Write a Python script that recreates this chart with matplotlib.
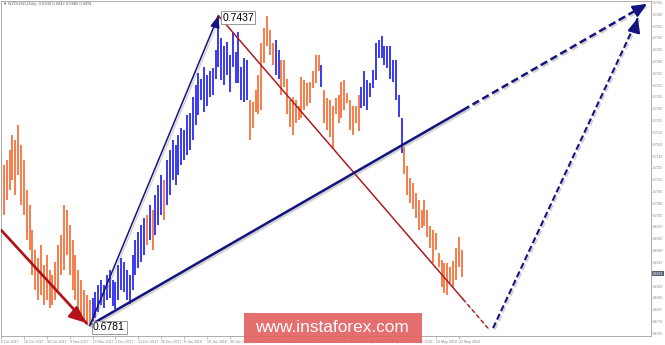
import numpy as np
import matplotlib
matplotlib.use('Agg')
import matplotlib.pyplot as plt
import matplotlib.patheffects as pe
from matplotlib.patches import Rectangle

plt.rcParams['font.family'] = ['Liberation Sans', 'DejaVu Sans']

# colours
BAR_UP = '#3a3af2'
BAR_DN = '#f77d4d'
NAVY = '#14147f'
RED = '#b3121b'
AXIS_GRAY = '#8a8a8a'

# NZDUSD daily bars (bar 0 = 6 Oct 2017)
highs = [0.7153, 0.7121, 0.7132, 0.7153, 0.7185, 0.7174, 0.7206, 0.7163, 0.7132, 0.7068,
         0.7036, 0.6984, 0.6941, 0.6924, 0.6952, 0.6910, 0.6931, 0.6899, 0.6888, 0.6916,
         0.6952, 0.6973, 0.7036, 0.7026, 0.6994, 0.6962, 0.6931, 0.6899, 0.6878, 0.6857,
         0.6846, 0.6835, 0.6840, 0.6852, 0.6867, 0.6878, 0.6867, 0.6888, 0.6899, 0.6878,
         0.6874, 0.6910, 0.6924, 0.6916, 0.6899, 0.6888, 0.6931, 0.6962, 0.6979, 0.6994,
         0.7009, 0.7015, 0.7036, 0.7026, 0.7058, 0.7079, 0.7100, 0.7089, 0.7132, 0.7153,
         0.7174, 0.7163, 0.7185, 0.7199, 0.7195, 0.7227, 0.7231, 0.7265, 0.7290, 0.7316,
         0.7304, 0.7329, 0.7312, 0.7319, 0.7326, 0.7364, 0.7437, 0.7389, 0.7372, 0.7382,
         0.7354, 0.7403, 0.7361, 0.7403, 0.7329, 0.7347, 0.7343, 0.7259, 0.7255, 0.7280,
         0.7312, 0.7379, 0.7410, 0.7436, 0.7407, 0.7379, 0.7386, 0.7364, 0.7343, 0.7343,
         0.7304, 0.7259, 0.7266, 0.7259, 0.7245, 0.7308, 0.7301, 0.7294, 0.7297, 0.7319,
         0.7354, 0.7354, 0.7333, 0.7280, 0.7262, 0.7259, 0.7245, 0.7262, 0.7269, 0.7297,
         0.7301, 0.7273, 0.7259, 0.7245, 0.7245, 0.7269, 0.7287, 0.7319, 0.7301, 0.7294,
         0.7322, 0.7379, 0.7386, 0.7394, 0.7372, 0.7372, 0.7372, 0.7343, 0.7343, 0.7269,
         0.7220, 0.7160, 0.7118, 0.7093, 0.7082, 0.7061, 0.7047, 0.7026, 0.7047, 0.7026,
         0.6991, 0.6984, 0.6977, 0.6934, 0.6920, 0.6913, 0.6913, 0.6906, 0.6917, 0.6945,
         0.6969, 0.6942]
lows = [0.7026, 0.7015, 0.7047, 0.7068, 0.7089, 0.7058, 0.7100, 0.7036, 0.7015, 0.6962,
        0.6941, 0.6888, 0.6857, 0.6835, 0.6846, 0.6825, 0.6835, 0.6819, 0.6825, 0.6835,
        0.6857, 0.6888, 0.6899, 0.6931, 0.6888, 0.6857, 0.6835, 0.6814, 0.6804, 0.6789,
        0.6783, 0.6781, 0.6789, 0.6797, 0.6810, 0.6825, 0.6819, 0.6835, 0.6840, 0.6823,
        0.6816, 0.6835, 0.6857, 0.6852, 0.6835, 0.6827, 0.6857, 0.6888, 0.6903, 0.6916,
        0.6931, 0.6952, 0.6962, 0.6941, 0.6973, 0.6994, 0.7015, 0.7005, 0.7036, 0.7058,
        0.7089, 0.7079, 0.7100, 0.7121, 0.7132, 0.7142, 0.7153, 0.7174, 0.7206, 0.7227,
        0.7259, 0.7234, 0.7245, 0.7266, 0.7269, 0.7304, 0.7329, 0.7301, 0.7290, 0.7312,
        0.7276, 0.7329, 0.7294, 0.7294, 0.7259, 0.7255, 0.7259, 0.7174, 0.7199, 0.7234,
        0.7230, 0.7237, 0.7336, 0.7372, 0.7354, 0.7333, 0.7312, 0.7304, 0.7269, 0.7287,
        0.7230, 0.7202, 0.7185, 0.7209, 0.7216, 0.7220, 0.7237, 0.7245, 0.7252, 0.7283,
        0.7294, 0.7319, 0.7287, 0.7209, 0.7195, 0.7181, 0.7156, 0.7230, 0.7209, 0.7220,
        0.7237, 0.7252, 0.7195, 0.7185, 0.7209, 0.7192, 0.7241, 0.7245, 0.7237, 0.7266,
        0.7283, 0.7301, 0.7347, 0.7347, 0.7333, 0.7326, 0.7304, 0.7297, 0.7259, 0.7223,
        0.7146, 0.7103, 0.7058, 0.7040, 0.7029, 0.7008, 0.6984, 0.6987, 0.6991, 0.6969,
        0.6945, 0.6913, 0.6941, 0.6906, 0.6864, 0.6850, 0.6846, 0.6871, 0.6864, 0.6878,
        0.6906, 0.6885]
# 1 = blue bar, 0 = orange bar
ups = [0] * 32 + [1] * 19 + [0, 1, 0, 1, 1, 1, 0] + [1] * 29 + [0] * 9 + [1, 1] + \
      [0] * 14 + [1] + [0] * 13 + [1] * 15 + [0] * 21

date_labels = ['6 Oct 2017', '18 Oct 2017', '30 Oct 2017', '9 Nov 2017', '21 Nov 2017',
               '1 Dec 2017', '13 Dec 2017', '26 Dec 2017', '8 Jan 2018', '18 Jan 2018',
               '30 Jan 2018', '9 Feb 2018', '21 Feb 2018', '5 Mar 2018', '15 Mar 2018',
               '27 Mar 2018', '6 Apr 2018', '18 Apr 2018', '30 Apr 2018', '10 May 2018',
               '22 May 2018']
price_labels = ['0.6765', '0.6790', '0.6815', '0.6840', '0.6865', '0.6890', '0.6915',
                '0.6940', '0.6965', '0.6990', '0.7015', '0.7040', '0.7065', '0.7090',
                '0.7115', '0.7140', '0.7165', '0.7190', '0.7215', '0.7240', '0.7265',
                '0.7290', '0.7315', '0.7340', '0.7365', '0.7390', '0.7415', '0.7440',
                '0.7465']
last_price = 0.6891
header = '\u25bc NZDUSD,Daily  0.6930 0.6942 0.6885 0.6891'

# wave marks (bar index, price)
low_pt = (31, 0.6781)
high_pt = (76, 0.7437)
red_start = (0.1, 0.6983)
red_tip = (29.8, 0.6787)
base_start = (31.9, 0.6785)
base_end = (225.8, 0.7462)
fall_end = (170.2, 0.6776)
rise_start = (172.0, 0.6776)
rise_end = (222.6, 0.7432)

W, H = 665, 345
fig = plt.figure(figsize=(W / 100, H / 100), dpi=100)
ax = fig.add_axes([1 / W, 9 / H, 650 / W, 335 / H])
ax.set_xlim(0.1, 227.2)
ax.set_ylim(0.67593, 0.74681)

n = len(highs)
idx = np.arange(n)
cols = [BAR_UP if u else BAR_DN for u in ups]
ax.vlines(idx, lows, highs, colors=cols, linewidth=1.4, zorder=2)

shadow = [pe.SimpleLineShadow(offset=(1.2, -1.2), shadow_color='gray', alpha=0.35), pe.Normal()]
last_bar = n - 0.6


def split_line(p0, p1, lw, color, dash):
    # solid up to the last bar, dashed after it
    yb = np.interp(last_bar, [p0[0], p1[0]], [p0[1], p1[1]])
    ax.plot([p0[0], last_bar], [p0[1], yb], color=color, lw=lw, zorder=5,
            solid_capstyle='round', path_effects=shadow)
    ax.plot([last_bar, p1[0]], [yb, p1[1]], color=color, lw=lw, zorder=5,
            linestyle=(0, dash), path_effects=shadow)


def head(p0, p1, color, lw, hl, hw):
    ax.annotate('', xy=p1, xytext=p0,
                arrowprops=dict(arrowstyle='-|>,head_length=%g,head_width=%g' % (hl, hw),
                                color=color, lw=lw, shrinkA=0, shrinkB=0,
                                mutation_scale=10), zorder=6)


# red impulse arrow into the low
ax.plot([red_start[0], red_tip[0]], [red_start[1], red_tip[1]], color=RED, lw=1.9,
        zorder=5, path_effects=shadow)
head((red_tip[0] - 3, red_tip[1] + 0.0015), red_tip, RED, 1.9, 1.0, 0.42)

# steep blue arrow low -> high
ax.plot([low_pt[0], high_pt[0]], [low_pt[1], high_pt[1]], color=NAVY, lw=1.1,
        zorder=5, path_effects=shadow)
head((high_pt[0] - 1.2, high_pt[1] - 0.0024), high_pt, NAVY, 1.1, 0.7, 0.28)

# red line from the high, dashed past the last bar
split_line(high_pt, fall_end, 1.0, RED, (3, 2))

# thick blue base line, dashed past the last bar, arrow at the end
split_line(base_start, base_end, 1.8, NAVY, (3, 1.5))
head((base_end[0] - 3, base_end[1] - 0.0011), base_end, NAVY, 1.5, 0.85, 0.38)

# dashed blue target arrow
ax.plot([rise_start[0], rise_end[0]], [rise_start[1], rise_end[1]], color=NAVY, lw=1.5,
        zorder=5, linestyle=(0, (3, 1.5)), path_effects=shadow)
head((rise_end[0] - 1.3, rise_end[1] - 0.0028), rise_end, NAVY, 1.5, 0.85, 0.38)

# price labels at the wave points
box = dict(boxstyle='square,pad=0.15', facecolor='white', edgecolor='#888888', lw=0.6)
ax.text(high_pt[0] + 1.3, high_pt[1] - 0.0004, '%.4f' % high_pt[1], fontsize=7.5,
        ha='left', va='center', bbox=box, zorder=7)
ax.text(low_pt[0] + 1.2, low_pt[1] - 0.0003, '%.4f' % low_pt[1], fontsize=7.5,
        ha='left', va='center', bbox=box, zorder=7)

# axes styling like the terminal
for s in ax.spines.values():
    s.set_color('#a0a0a0')
    s.set_linewidth(0.6)
ax.yaxis.tick_right()
prices = [float(p) for p in price_labels]
ax.set_yticks(prices)
ax.set_yticklabels([('' if abs(p - last_price) < 0.0012 else s)
                    for p, s in zip(prices, price_labels)])
ax.tick_params(axis='y', direction='out', length=1, width=0.4, colors=AXIS_GRAY,
               labelsize=2.4, pad=0.5)
ax.set_xticks(np.arange(0, 8 * len(date_labels), 8))
ax.set_xticklabels(date_labels)
ax.tick_params(axis='x', direction='out', length=2, width=0.4, colors=AXIS_GRAY,
               labelsize=2.6, pad=0.8)
for lab in ax.get_xticklabels():
    lab.set_ha('left')

ax.annotate('%.4f' % last_price, xy=(1.0, last_price), xycoords=('axes fraction', 'data'),
            xytext=(1.2, 0), textcoords='offset points', fontsize=2.4, color='white',
            ha='left', va='center', annotation_clip=False,
            bbox=dict(boxstyle='square,pad=0.15', facecolor='#5a6676', edgecolor='none'))

fig.text(3 / W, 1 - 4 / H, header, fontsize=3, color='#606060', ha='left', va='center')

# watermark
fig.add_artist(Rectangle((244 / W, 1 - 343 / H), 178 / W, 30 / H, transform=fig.transFigure,
                         facecolor='#e36262', edgecolor='none', alpha=0.92, zorder=10))
fig.text(332 / W, 1 - 328 / H, 'www.instaforex.com', fontsize=12.4, color='white',
         ha='center', va='center', zorder=11)

fig.savefig('out.png', dpi=100)
